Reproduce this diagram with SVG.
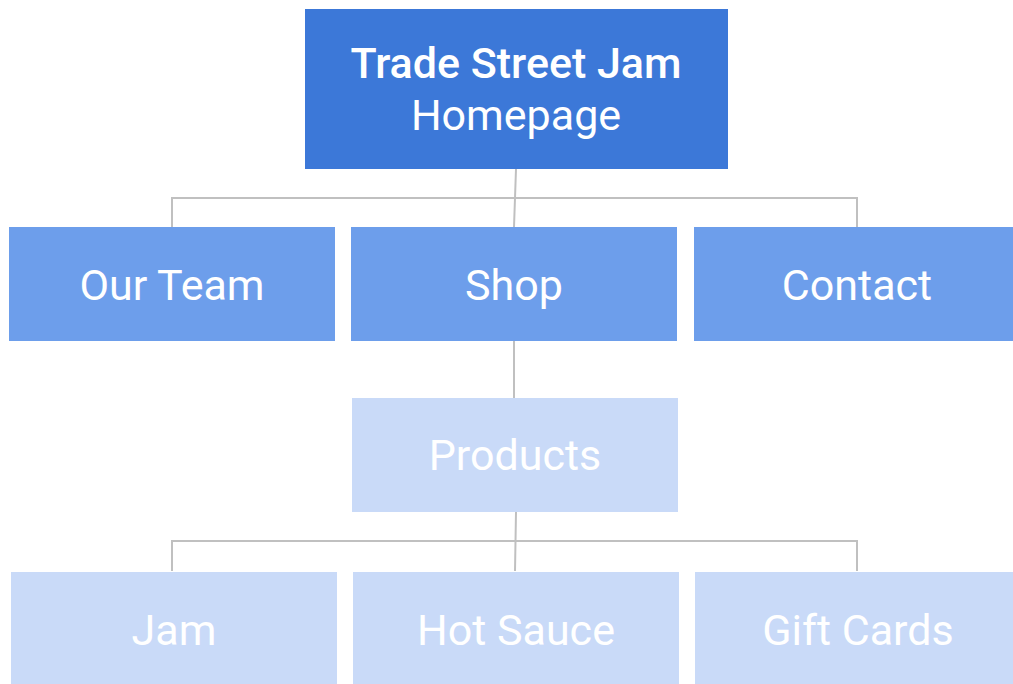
<svg xmlns="http://www.w3.org/2000/svg" width="1013" height="684" viewBox="0 0 1013 684">
<style>
.l1{fill:#3c78d8}
.l2{fill:#6d9eeb}
.l3{fill:#c9daf8}
.t{font-family:Roboto,"Open Sans","Liberation Sans",sans-serif;fill:#ffffff;text-anchor:middle;font-size:43px}
.b{font-weight:500}
.c{stroke:#c0c0c0;stroke-width:2;fill:none}
</style>
<rect width="1013" height="684" fill="#ffffff"/>
<g id="connectors">
<path class="c" d="M516,169 L514,227 M172,227 V198 H857 V227"/>
<path class="c" d="M514,341 V398"/>
<path class="c" d="M516,512 L515,571 M172,571 V541 H857 V571"/>
</g>
<g id="homepage">
<rect class="l1" x="305" y="9" width="423" height="160"/>
<text class="t b" x="516" y="78" font-size="41">Trade Street Jam</text>
<text class="t" x="516" y="130" font-size="41">Homepage</text>
</g>
<g id="our-team">
<rect class="l2" x="9" y="227" width="326" height="114"/>
<text class="t" x="172" y="300">Our Team</text>
</g>
<g id="shop">
<rect class="l2" x="351" y="227" width="326" height="114"/>
<text class="t" x="514" y="300">Shop</text>
</g>
<g id="contact">
<rect class="l2" x="694" y="227" width="319" height="114"/>
<text class="t" x="857" y="300">Contact</text>
</g>
<g id="products">
<rect class="l3" x="352" y="398" width="326" height="114"/>
<text class="t" x="515" y="470">Products</text>
</g>
<g id="jam">
<rect class="l3" x="11" y="572" width="326" height="112"/>
<text class="t" x="174" y="645">Jam</text>
</g>
<g id="hot-sauce">
<rect class="l3" x="353" y="572" width="326" height="112"/>
<text class="t" x="516" y="645">Hot Sauce</text>
</g>
<g id="gift-cards">
<rect class="l3" x="695" y="572" width="318" height="112"/>
<text class="t" x="858" y="645">Gift Cards</text>
</g>
</svg>
